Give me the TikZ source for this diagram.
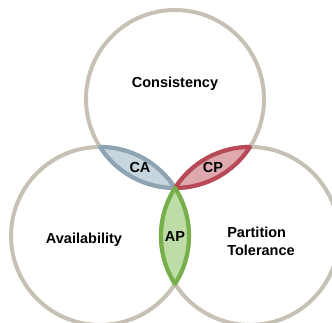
\documentclass[tikz,border=0pt]{standalone}
\usepackage{fontspec}
\usetikzlibrary{calc}
\setmainfont{Liberation Sans}
\definecolor{borde}{HTML}{C7C1B5}
\definecolor{caborde}{HTML}{8EA4B2}
\definecolor{carelleno}{HTML}{C6D5DE}
\definecolor{cpborde}{HTML}{B84A57}
\definecolor{cprelleno}{HTML}{DDA9AE}
\definecolor{apborde}{HTML}{77B04A}
\definecolor{aprelleno}{HTML}{BEDCA6}
\begin{document}
\begin{tikzpicture}[x=1pt,y=1pt,
  etiqueta/.style={font=\fontsize{14.5}{18}\selectfont\bfseries},
  lente/.style={line width=4.2pt,line join=round}]
\useasboundingbox (0,0) rectangle (332,322);
\clip (0,0) rectangle (332,322);
% punto comun y centros de los tres circulos
\coordinate (P) at (175,134);
\coordinate (C) at ($(P)+(90:89)$);
\coordinate (A) at ($(P)+(212.6:89)$);
\coordinate (T) at ($(P)+(-32.6:89)$);
\draw[borde,line width=4pt] (C) circle (89);
\draw[borde,line width=4pt] (A) circle (89);
\draw[borde,line width=4pt] (T) circle (89);
% CA
\draw[lente,caborde,fill=carelleno] ($(C)+(212.6:89)$) arc (212.6:270:89) arc (32.6:90:89) -- cycle;
% CP
\draw[lente,cpborde,fill=cprelleno] (P) arc (270:327.4:89) arc (90:147.4:89) -- cycle;
% AP
\draw[lente,apborde,fill=aprelleno] (P) arc (32.6:-32.6:89) arc (212.6:147.4:89) -- cycle;
\node[etiqueta] (cons) at (175,238) {Consistency};
\node[etiqueta] (disp) at (84,82) {Availability};
\node[etiqueta,align=left] (part) at (261,81) {Partition\\Tolerance};
\node[etiqueta] (ca) at (140,154) {CA};
\node[etiqueta] (cp) at (213,154) {CP};
\node[etiqueta] (ap) at (175,85) {AP};
\end{tikzpicture}
\end{document}
